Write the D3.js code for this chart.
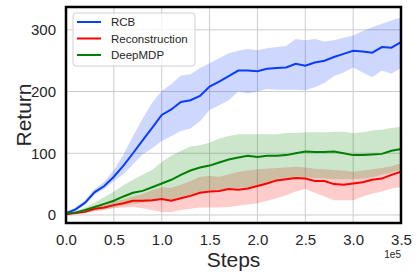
<!DOCTYPE html>
<html>
<head>
<meta charset="utf-8">
<script src="https://cdn.jsdelivr.net/npm/d3@7"></script>
<style>
  body { margin: 0; background: #fff; }
  svg text { font-family: "Liberation Sans", Arial, sans-serif; fill: #262626; }
</style>
</head>
<body>
<div id="chart"></div>
<script>
// Steps (in units of 1e5)
var steps = d3.range(36).map(i => i / 10);

// RCB
var rcbMean = [3, 9, 20, 37, 47, 62, 80, 100, 121, 141, 162, 171, 183, 186, 193, 208, 216, 225, 234, 234,
  233, 237, 238, 239, 245, 242, 247, 250, 256, 261, 266, 265, 263, 272, 271, 280];
var rcbUpper = [5, 12, 24, 42, 54, 73, 98, 128, 156, 182, 201, 212, 226, 228, 238, 246, 254, 262, 266, 269,
  267, 270, 272, 274, 285, 283, 285, 281, 283, 287, 291, 298, 304, 310, 315, 320];
var rcbLower = [1, 6, 17, 33, 42, 55, 66, 82, 98, 108, 120, 128, 136, 140, 152, 170, 178, 186, 200, 197,
  200, 204, 203, 203, 203, 202, 207, 214, 225, 231, 239, 231, 223, 234, 229, 238];

// Reconstruction
var recMean = [1, 3, 5, 10, 12, 16, 19, 23, 23, 24, 26, 23, 27, 31, 36, 38, 39, 42, 41, 43,
  47, 51, 56, 58, 60, 59, 55, 55, 50, 49, 51, 53, 57, 59, 65, 70];
var recUpper = [2, 5, 8, 14, 17, 21, 25, 30, 34, 40, 45, 44, 49, 55, 62, 63, 62, 66, 70, 72,
  74, 75, 76, 77, 78, 77, 75, 74, 73, 72, 70, 72, 74, 76, 79, 84];
var recLower = [0, 1, 3, 6, 8, 11, 12, 13, 11, 8, 5, 5, 8, 10, 12, 12, 12, 13, 15, 17,
  19, 23, 27, 32, 38, 42, 36, 30, 24, 24, 24, 30, 35, 38, 43, 45];

// DeepMDP
var mdpMean = [3, 4, 8, 13, 18, 23, 30, 36, 39, 45, 51, 57, 65, 72, 77, 80, 85, 90, 93, 96,
  94, 96, 96, 97, 100, 103, 102, 102, 103, 100, 97, 97, 98, 99, 104, 107];
var mdpUpper = [4, 6, 12, 20, 29, 38, 48, 57, 65, 73, 86, 96, 104, 111, 113, 117, 124, 128, 131, 131,
  131, 131, 131, 133, 133, 134, 134, 134, 135, 135, 133, 134, 137, 138, 141, 143];
var mdpLower = [1, 2, 4, 7, 9, 12, 15, 18, 20, 22, 25, 25, 28, 32, 37, 40, 41, 43, 44, 45,
  48, 52, 55, 58, 62, 61, 60, 59, 58, 58, 58, 59, 61, 65, 69, 73];

var xTicks = [0, 0.5, 1.0, 1.5, 2.0, 2.5, 3.0, 3.5];
var yTicks = [0, 100, 200, 300];

var series = [
  { name: "RCB", color: "#0a3cff", mean: rcbMean, lo: rcbLower, hi: rcbUpper },
  { name: "Reconstruction", color: "#ff0000", mean: recMean, lo: recLower, hi: recUpper },
  { name: "DeepMDP", color: "#008000", mean: mdpMean, lo: mdpLower, hi: mdpUpper }
];

var svgWidth = 418, svgHeight = 279;
var margin = { top: 7, right: 17, bottom: 56, left: 66 };
var width = svgWidth - margin.left - margin.right;
var height = svgHeight - margin.top - margin.bottom;

var svg = d3.select("#chart").append("svg")
  .attr("width", svgWidth)
  .attr("height", svgHeight);

var g = svg.append("g")
  .attr("transform", `translate(${margin.left}, ${margin.top})`);

var x = d3.scaleLinear().domain([0, 3.5]).range([0, width]);
var y = d3.scaleLinear().domain([-13, 337]).range([height, 0]);

// grid
g.append("g").selectAll("line").data(xTicks).enter().append("line")
  .attr("x1", d => x(d)).attr("x2", d => x(d))
  .attr("y1", 0).attr("y2", height)
  .attr("stroke", "#cccccc").attr("stroke-width", 1);
g.append("g").selectAll("line").data(yTicks).enter().append("line")
  .attr("x1", 0).attr("x2", width)
  .attr("y1", d => y(d)).attr("y2", d => y(d))
  .attr("stroke", "#cccccc").attr("stroke-width", 1);

// bands
var area = d3.area()
  .x((d, i) => x(steps[i]))
  .y0(d => y(d[0]))
  .y1(d => y(d[1]));
var line = d3.line()
  .x((d, i) => x(steps[i]))
  .y(d => y(d));

series.forEach(function(s) {
  g.append("path")
    .datum(s.lo.map((v, i) => [v, s.hi[i]]))
    .attr("d", area)
    .attr("fill", s.color)
    .attr("fill-opacity", 0.2);
});
series.forEach(function(s) {
  g.append("path")
    .datum(s.mean)
    .attr("d", line)
    .attr("fill", "none")
    .attr("stroke", s.color)
    .attr("stroke-width", 2);
});

// axes
var xAxis = g.append("g")
  .attr("transform", `translate(0, ${height})`)
  .call(d3.axisBottom(x).tickValues(xTicks).tickFormat(d3.format(".1f")).tickSize(0).tickPadding(11));
xAxis.select(".domain").remove();
xAxis.selectAll("text").attr("font-size", "15px").attr("fill", "#262626");

var yAxis = g.append("g")
  .call(d3.axisLeft(y).tickValues(yTicks).tickSize(0).tickPadding(10));
yAxis.select(".domain").remove();
yAxis.selectAll("text").attr("font-size", "15px").attr("fill", "#262626");

// frame
g.append("rect")
  .attr("width", width).attr("height", height)
  .attr("fill", "none").attr("stroke", "#000").attr("stroke-width", 2.5);

// labels
svg.append("text")
  .attr("x", margin.left + width / 2).attr("y", 267)
  .attr("text-anchor", "middle").attr("font-size", "21px")
  .text("Steps");
svg.append("text")
  .attr("transform", `translate(31, ${margin.top + height / 2}) rotate(-90)`)
  .attr("text-anchor", "middle").attr("font-size", "21px")
  .text("Return");
svg.append("text")
  .attr("x", margin.left + width).attr("y", 258)
  .attr("text-anchor", "end").attr("font-size", "10px")
  .text("1e5");

// legend
var legend = svg.append("g").attr("transform", "translate(73, 13)");
legend.append("rect")
  .attr("width", 122).attr("height", 53).attr("rx", 3)
  .attr("fill", "#fff").attr("fill-opacity", 0.8)
  .attr("stroke", "#d0d0d0").attr("stroke-width", 1);
var item = legend.selectAll("g.item").data(series).enter().append("g")
  .attr("class", "item")
  .attr("transform", (d, i) => `translate(0, ${9 + i * 16.5})`);
item.append("line")
  .attr("x1", 4).attr("x2", 28)
  .attr("stroke", d => d.color).attr("stroke-width", 2);
item.append("text")
  .attr("x", 38).attr("y", 4)
  .attr("font-size", "11.5px")
  .text(d => d.name);
</script>
</body>
</html>
